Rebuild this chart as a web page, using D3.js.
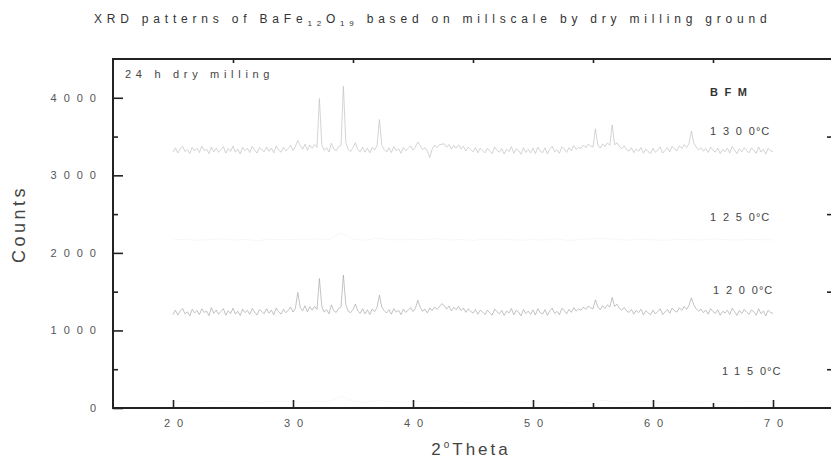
<!DOCTYPE html>
<html>
<head>
<meta charset="utf-8">
<script src="https://cdn.jsdelivr.net/npm/d3@7"></script>
<style>
  body { margin: 0; background: #fff; }
  text { font-family: "Liberation Sans", Arial, sans-serif; }
</style>
</head>
<body>
<script>
// 2θ sampling: 20 -> 70 deg, 0.2 deg step for the visible scans, 1 deg for the faint ones
const thetaStart = 20;
const thetaStep = 0.2;
const thetaStepFaint = 1;

const counts1300 = [
  3302, 3356, 3288, 3341, 3374, 3306, 3330, 3281, 3362, 3315,
  3349, 3293, 3377, 3320, 3338, 3279, 3365, 3304, 3352, 3297,
  3334, 3369, 3286, 3345, 3309, 3378, 3299, 3340, 3276, 3362,
  3318, 3350, 3294, 3373, 3325, 3287, 3357, 3331, 3303, 3366,
  3310, 3353, 3290, 3380, 3327, 3298, 3362, 3316, 3344, 3388,
  3321, 3372, 3450, 3384, 3336, 3401, 3323, 3392, 3349, 3396,
  3360, 3990, 3398, 3322, 3356, 3300, 3414, 3338, 3317, 3370,
  3386, 4150, 3425, 3333, 3308, 3359, 3420, 3330, 3305, 3364,
  3298, 3350, 3291, 3362, 3327, 3381, 3720, 3389, 3334, 3302,
  3355, 3294, 3369, 3318, 3342, 3285, 3360, 3315, 3349, 3380,
  3326, 3366, 3430, 3383, 3331, 3357, 3306, 3230, 3340, 3388,
  3357, 3395, 3400, 3407, 3362, 3398, 3338, 3386, 3351, 3393,
  3341, 3376, 3315, 3364, 3333, 3302, 3358, 3291, 3350, 3320,
  3290, 3349, 3312, 3279, 3363, 3323, 3298, 3345, 3275, 3338,
  3307, 3370, 3285, 3343, 3320, 3271, 3356, 3296, 3335, 3289,
  3350, 3280, 3362, 3314, 3292, 3355, 3276, 3337, 3375, 3303,
  3330, 3284, 3368, 3342, 3296, 3358, 3318, 3382, 3333, 3361,
  3345, 3390, 3357, 3403, 3378, 3364, 3600, 3391, 3352, 3405,
  3369, 3418, 3386, 3650, 3393, 3420, 3370, 3344, 3381, 3331,
  3312, 3356, 3292, 3344, 3310, 3360, 3285, 3341, 3305, 3280,
  3350, 3296, 3329, 3367, 3287, 3320, 3357, 3303, 3376, 3336,
  3318, 3381, 3346, 3396, 3359, 3410, 3570, 3415, 3365, 3328,
  3358, 3311, 3347, 3295, 3364, 3322, 3299, 3352, 3281, 3333,
  3305, 3349, 3288, 3372, 3326, 3279, 3341, 3303, 3356, 3318,
  3290, 3352, 3327, 3282, 3366, 3300, 3337, 3274, 3349, 3315,
  3308
];

const counts1200 = [
  1205, 1262, 1198, 1251, 1283, 1214, 1240, 1188, 1272, 1226,
  1257, 1203, 1279, 1232, 1249, 1190, 1295, 1221, 1264, 1209,
  1246, 1281, 1196, 1254, 1218, 1287, 1211, 1248, 1192, 1275,
  1230, 1259, 1207, 1284, 1236, 1199, 1268, 1243, 1215, 1280,
  1222, 1263, 1201, 1290, 1241, 1210, 1274, 1229, 1256, 1302,
  1238, 1285, 1490, 1296, 1252, 1318, 1240, 1306, 1261, 1310,
  1272, 1670, 1311, 1236, 1268, 1215, 1330, 1254, 1233, 1285,
  1301, 1715, 1335, 1248, 1229, 1270, 1340, 1250, 1221, 1280,
  1213, 1266, 1205, 1277, 1242, 1298, 1455, 1302, 1255, 1224,
  1268, 1210, 1281, 1236, 1258, 1204, 1276, 1233, 1262, 1295,
  1244, 1283, 1390, 1297, 1248, 1274, 1226, 1290, 1256, 1302,
  1270, 1308, 1345, 1322, 1275, 1315, 1252, 1300, 1266, 1311,
  1255, 1289, 1233, 1278, 1250, 1222, 1270, 1209, 1261, 1238,
  1205, 1262, 1228, 1196, 1277, 1240, 1214, 1258, 1193, 1251,
  1226, 1283, 1201, 1259, 1236, 1188, 1270, 1218, 1249, 1207,
  1265, 1199, 1279, 1230, 1211, 1268, 1195, 1252, 1289, 1219,
  1247, 1203, 1284, 1258, 1214, 1272, 1233, 1295, 1250, 1276,
  1260, 1303, 1271, 1316, 1292, 1279, 1395, 1305, 1268, 1320,
  1284, 1330, 1301, 1425, 1310, 1338, 1285, 1262, 1296, 1251,
  1232, 1270, 1210, 1258, 1229, 1274, 1200, 1256, 1226, 1203,
  1262, 1214, 1245, 1279, 1206, 1237, 1270, 1222, 1290, 1253,
  1236, 1292, 1260, 1310, 1271, 1325, 1420, 1330, 1280, 1248,
  1275, 1230, 1262, 1209, 1281, 1243, 1218, 1266, 1196, 1247,
  1224, 1260, 1205, 1288, 1241, 1193, 1257, 1219, 1273, 1236,
  1208, 1265, 1242, 1196, 1280, 1215, 1251, 1187, 1262, 1230,
  1220
];

// almost washed out in the scan
const counts1250 = [
  2168, 2175, 2162, 2171, 2180, 2165, 2173, 2158, 2177, 2169,
  2174, 2166, 2182, 2171, 2260, 2178, 2163, 2190, 2172, 2167,
  2176, 2170, 2184, 2165, 2173, 2161, 2178, 2169, 2175, 2163,
  2171, 2166, 2179, 2160, 2174, 2182, 2188, 2170, 2165, 2177,
  2168, 2162, 2175, 2170, 2166, 2179, 2172, 2164, 2176, 2169,
  2167
];
const counts1150 = [
  78, 85, 72, 81, 88, 75, 83, 70, 86, 79,
  84, 76, 90, 82, 150, 88, 74, 95, 81, 77,
  85, 79, 92, 74, 83, 71, 87, 78, 84, 73,
  80, 76, 89, 70, 84, 92, 98, 80, 75, 87,
  78, 72, 85, 80, 76, 89, 82, 74, 86, 79,
  77
];

const sampleTemps = ['1300', '1250', '1200', '1150'];
const xTicks = [20, 30, 40, 50, 60, 70];
const xMinorBottom = [55, 65];
const xTicksTop = [25, 35, 45, 55, 65];
const yTicks = [0, 1000, 2000, 3000, 4000];
const yMinor = [500, 1500, 2500, 3500];

const W = 831, H = 459;
const x = d3.scaleLinear().domain([15, 75]).range([113, 833]);
const y = d3.scaleLinear().domain([0, 4500]).range([408, 59]);

const svg = d3.select('body').append('svg')
    .attr('width', W)
    .attr('height', H);

//标题
const title = svg.append('text')
    .attr('x', 94)
    .attr('y', 23)
    .attr('fill', '#333')
    .attr('font-size', 12)
    .attr('letter-spacing', 4.8);
title.append('tspan').text('XRD patterns of BaFe');
title.append('tspan').attr('font-size', 8).attr('dy', 3).text('12');
title.append('tspan').attr('dy', -3).text('O');
title.append('tspan').attr('font-size', 8).attr('dy', 3).text('19');
title.append('tspan').attr('dy', -3).text(' based on millscale by dry milling ground');

//曲线
const scans = [
    { values: counts1300, step: thetaStep, color: '#c2c2c2' },
    { values: counts1250, step: thetaStepFaint, color: '#f3f3f3' },
    { values: counts1200, step: thetaStep, color: '#a9a9a9' },
    { values: counts1150, step: thetaStepFaint, color: '#f3f3f3' }
];
svg.append('g')
    .attr('class', 'lines')
    .selectAll('path')
    .data(scans)
    .enter()
    .append('path')
    .attr('d', (s) => d3.line()
        .x((d, i) => x(thetaStart + i * s.step))
        .y((d) => y(d))(s.values))
    .attr('fill', 'none')
    .attr('stroke', (s) => s.color)
    .attr('stroke-width', 0.7);

//坐标轴
const tickText = (g) => g.selectAll('text')
    .attr('font-size', 11)
    .attr('fill', '#555')
    .attr('letter-spacing', 7)
    .attr('font-family', '"Liberation Sans", Arial, sans-serif');

svg.append('g')
    .attr('transform', 'translate(113,0)')
    .call(d3.axisLeft(y).tickValues(yTicks).tickSize(-10).tickPadding(10).tickFormat(d3.format('d')))
    .call((g) => g.select('.domain').remove())
    .call(tickText);
svg.append('g')
    .attr('transform', 'translate(113,0)')
    .call(d3.axisLeft(y).tickValues(yMinor).tickSize(-5).tickFormat(''))
    .call((g) => g.select('.domain').remove());
svg.append('g')
    .attr('transform', 'translate(833,0)')
    .call(d3.axisRight(y).tickValues(yMinor).tickSize(-6).tickFormat(''))
    .call((g) => g.select('.domain').remove());

svg.append('g')
    .attr('transform', 'translate(0,408)')
    .call(d3.axisBottom(x).tickValues(xTicks).tickSize(-8).tickPadding(11))
    .call((g) => g.select('.domain').remove())
    .call(tickText)
    .call((g) => g.selectAll('text').attr('dx', 3.5));
svg.append('g')
    .attr('transform', 'translate(0,408)')
    .call(d3.axisBottom(x).tickValues(xMinorBottom).tickSize(-5).tickFormat(''))
    .call((g) => g.select('.domain').remove());
svg.append('g')
    .attr('transform', 'translate(0,59)')
    .call(d3.axisTop(x).tickValues(xTicksTop).tickSize(-4).tickFormat(''))
    .call((g) => g.select('.domain').remove());

svg.selectAll('.tick line')
    .attr('stroke', '#222')
    .attr('stroke-width', 1.6);

//边框
svg.append('rect')
    .attr('x', x(15))
    .attr('y', y(4500))
    .attr('width', x(75) - x(15))
    .attr('height', y(0) - y(4500))
    .attr('fill', 'none')
    .attr('stroke', '#222')
    .attr('stroke-width', 2);

//轴标题
svg.append('text')
    .attr('transform', 'translate(25,224) rotate(-90)')
    .attr('text-anchor', 'middle')
    .attr('font-size', 18)
    .attr('letter-spacing', 3.5)
    .attr('fill', '#444')
    .text('Counts');

const xt = svg.append('text')
    .attr('x', 471)
    .attr('y', 455)
    .attr('text-anchor', 'middle')
    .attr('font-size', 17)
    .attr('letter-spacing', 3)
    .attr('fill', '#444');
xt.append('tspan').text('2');
xt.append('tspan').attr('font-size', 10).attr('dy', -7).text('o');
xt.append('tspan').attr('dy', 7).text('Theta');

//注释
svg.append('text')
    .attr('x', 125)
    .attr('y', 78)
    .attr('font-size', 11)
    .attr('letter-spacing', 4.7)
    .attr('fill', '#444')
    .text('24 h dry milling');

svg.append('text')
    .attr('x', 710)
    .attr('y', 96)
    .attr('font-size', 11)
    .attr('font-weight', 'bold')
    .attr('letter-spacing', 6.6)
    .attr('fill', '#333')
    .text('BFM');

// 温度标签：前三位数字间距宽，最后一位与°C 紧挨
const labelLevels = [3520, 2410, 1470, 425];
const labelX = [710, 710, 713, 722];
const labels = svg.append('g')
    .selectAll('text')
    .data(sampleTemps)
    .enter()
    .append('text')
    .attr('x', (d, i) => labelX[i])
    .attr('y', (d, i) => y(labelLevels[i]))
    .attr('font-size', 11)
    .attr('fill', '#444');
labels.append('tspan')
    .attr('letter-spacing', 6.8)
    .text((d) => d.slice(0, 3));
labels.append('tspan')
    .attr('letter-spacing', 1)
    .text((d) => d.slice(3) + '°C');
</script>
</body>
</html>
